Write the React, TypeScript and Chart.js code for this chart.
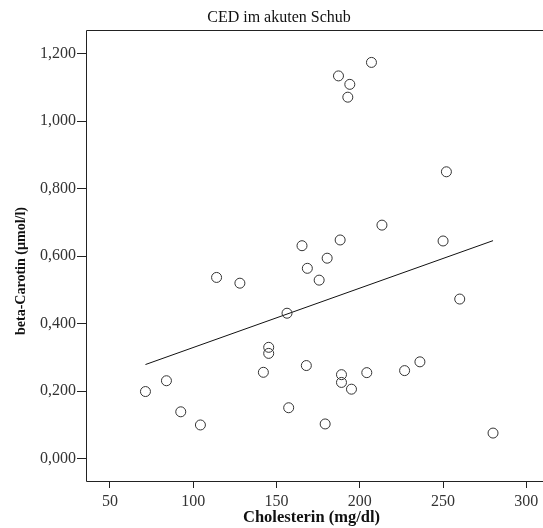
import React, { useEffect, useRef } from "react";
import { Chart, registerables } from "chart.js";

Chart.register(...registerables);

const chartTitle = "CED im akuten Schub";
const xTitle = "Cholesterin (mg/dl)";
const yTitle = "beta-Carotin (µmol/l)";

const cholesterin = [
  71.3, 83.9, 92.5, 104.3, 114.0, 128.0, 142.1, 145.3, 145.3, 156.3, 157.3,
  165.3, 167.9, 168.5, 175.6, 179.2, 180.4, 187.2, 188.2, 189.0, 189.0, 192.8,
  194.0, 195.0, 204.2, 207.0, 213.3, 226.9, 236.1, 250.0, 252.0, 260.0, 280.0,
];
const betaCarotin = [
  0.199, 0.231, 0.139, 0.1, 0.537, 0.52, 0.256, 0.33, 0.312, 0.431, 0.151,
  0.631, 0.276, 0.564, 0.529, 0.103, 0.594, 1.134, 0.648, 0.249, 0.226, 1.071,
  1.109, 0.206, 0.255, 1.174, 0.692, 0.261, 0.287, 0.645, 0.85, 0.473, 0.076,
];
const fitX = [71.3, 280.0];
const fitY = [0.279, 0.646];

const xTicks = [50, 100, 150, 200, 250, 300];
const yTicks = [0, 0.2, 0.4, 0.6, 0.8, 1.0, 1.2];

const SERIF = "'Liberation Serif', 'Times New Roman', serif";

export default function App() {
  const ref = useRef<HTMLCanvasElement | null>(null);

  useEffect(() => {
    if (!ref.current) return;
    const framePlugin = {
      id: "frame",
      afterDraw(chart: any) {
        const { ctx, chartArea, width } = chart;
        const l = Math.round(chartArea.left) + 0.5;
        const t = Math.round(chartArea.top) + 0.5;
        const b = Math.round(chartArea.bottom) + 0.5;
        ctx.save();
        ctx.strokeStyle = "#222";
        ctx.lineWidth = 1;
        ctx.beginPath();
        ctx.moveTo(width, t);
        ctx.lineTo(l, t);
        ctx.lineTo(l, b);
        ctx.lineTo(width, b);
        ctx.stroke();
        ctx.fillStyle = "#111";
        ctx.textAlign = "center";
        ctx.textBaseline = "middle";
        ctx.font = `16px ${SERIF}`;
        ctx.fillText(chartTitle, 279, 18);
        ctx.save();
        ctx.translate(21, 271);
        ctx.rotate(-Math.PI / 2);
        ctx.font = `bold 14px ${SERIF}`;
        ctx.fillText(yTitle, 0, 0);
        ctx.restore();
        ctx.restore();
      },
    };

    const chart = new Chart(ref.current, {
      type: "scatter",
      data: {
        datasets: [
          {
            label: "data",
            data: cholesterin.map((x, i) => ({ x, y: betaCarotin[i] })),
            pointRadius: 5,
            pointBorderWidth: 1,
            pointBorderColor: "#333",
            pointBackgroundColor: "rgba(255,255,255,0)",
            showLine: false,
          },
          {
            label: "fit",
            type: "line",
            data: fitX.map((x, i) => ({ x, y: fitY[i] })),
            borderColor: "#111",
            borderWidth: 1,
            pointRadius: 0,
            fill: false,
          } as any,
        ],
      },
      options: {
        animation: false,
        responsive: false,
        maintainAspectRatio: false,
        layout: { padding: { top: 30, right: 0, left: 0, bottom: 0 } },
        plugins: {
          legend: { display: false },
          tooltip: { enabled: false },
          title: { display: false },
        },
        scales: {
          x: {
            type: "linear",
            min: 35.6,
            max: 306.4,
            afterBuildTicks: (s: any) => {
              s.ticks = xTicks.map((v) => ({ value: v }));
            },
            afterFit: (s: any) => {
              s.height = 47;
            },
            grid: {
              drawOnChartArea: false,
              drawTicks: true,
              tickLength: 7,
              color: "#222",
            },
            border: { display: false },
            ticks: {
              color: "#333",
              padding: 4,
              font: { family: SERIF, size: 16 },
              maxRotation: 0,
              autoSkip: false,
            },
            title: {
              display: true,
              text: xTitle,
              color: "#111",
              font: { family: SERIF, size: 16.5, weight: "bold" },
              padding: { top: -3, bottom: 0 },
            },
          },
          y: {
            type: "linear",
            min: -0.066,
            max: 1.27,
            afterBuildTicks: (s: any) => {
              s.ticks = yTicks.map((v) => ({ value: v }));
            },
            afterFit: (s: any) => {
              s.width = 86;
            },
            grid: {
              drawOnChartArea: false,
              drawTicks: true,
              tickLength: 9,
              color: "#222",
            },
            border: { display: false },
            ticks: {
              color: "#333",
              padding: 1,
              font: { family: SERIF, size: 16 },
              autoSkip: false,
              callback: (v: any) => Number(v).toFixed(3).replace(".", ","),
            },
          },
        },
      },
      plugins: [framePlugin],
    });
    return () => chart.destroy();
  }, []);

  return (
    <div style={{ position: "fixed", left: 0, top: 0, width: 543, height: 528, background: "#fff", overflow: "hidden" }}>
      <canvas ref={ref} width={543} height={528} style={{ width: 543, height: 528 }} />
    </div>
  );
}
